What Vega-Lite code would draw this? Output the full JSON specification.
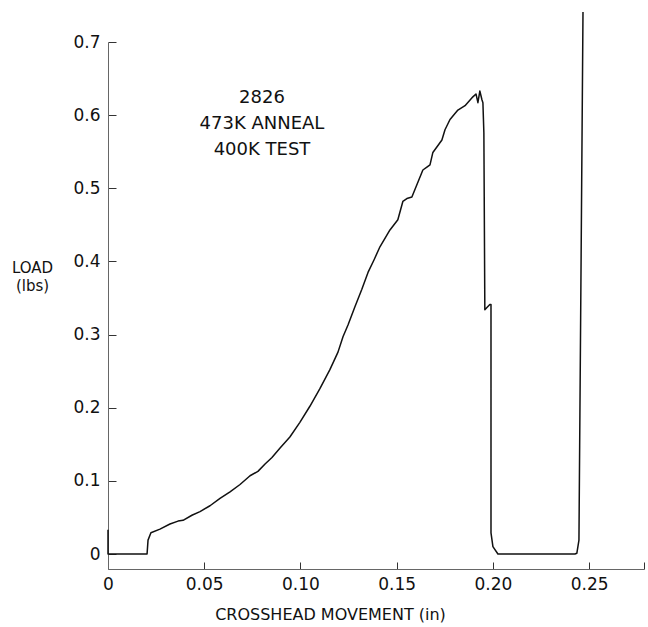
{
  "$schema": "https://vega.github.io/schema/vega-lite/v6.json",
  "width": 536,
  "height": 527,
  "autosize": {"type": "none"},
  "padding": {"left": 108, "top": 42, "right": 4, "bottom": 58},
  "background": "white",
  "config": {
    "view": {"stroke": null},
    "font": "DejaVu Sans",
    "axis": {"grid": false, "labelFont": "DejaVu Sans", "titleFont": "DejaVu Sans", "labelColor": "#111", "titleColor": "#111", "titleFontWeight": "normal", "domainColor": "#666", "tickColor": "#333", "labelFlush": false}
  },
  "datasets": {
    "curve": [
      {"x": 0, "y": 0.033}, {"x": 0, "y": 0}, {"x": 0.0203, "y": 0}, {"x": 0.0208, "y": 0.019},
      {"x": 0.0223, "y": 0.029}, {"x": 0.027, "y": 0.034}, {"x": 0.0322, "y": 0.041}, {"x": 0.0364, "y": 0.045},
      {"x": 0.039, "y": 0.046}, {"x": 0.0436, "y": 0.053}, {"x": 0.0478, "y": 0.058}, {"x": 0.053, "y": 0.066},
      {"x": 0.0582, "y": 0.076}, {"x": 0.0634, "y": 0.085}, {"x": 0.0686, "y": 0.095}, {"x": 0.0738, "y": 0.107},
      {"x": 0.0779, "y": 0.113}, {"x": 0.0816, "y": 0.123}, {"x": 0.0852, "y": 0.132}, {"x": 0.0894, "y": 0.145},
      {"x": 0.0945, "y": 0.160}, {"x": 0.0997, "y": 0.180}, {"x": 0.1049, "y": 0.202}, {"x": 0.1101, "y": 0.226},
      {"x": 0.1153, "y": 0.252}, {"x": 0.1195, "y": 0.276}, {"x": 0.1221, "y": 0.297}, {"x": 0.1247, "y": 0.313},
      {"x": 0.1283, "y": 0.338}, {"x": 0.1319, "y": 0.362}, {"x": 0.1351, "y": 0.385}, {"x": 0.1382, "y": 0.402},
      {"x": 0.1413, "y": 0.42}, {"x": 0.1465, "y": 0.443}, {"x": 0.1506, "y": 0.457}, {"x": 0.1532, "y": 0.482},
      {"x": 0.1553, "y": 0.486}, {"x": 0.1579, "y": 0.488}, {"x": 0.1636, "y": 0.525}, {"x": 0.1657, "y": 0.529},
      {"x": 0.1673, "y": 0.532}, {"x": 0.1688, "y": 0.549}, {"x": 0.1735, "y": 0.566}, {"x": 0.1751, "y": 0.58},
      {"x": 0.1777, "y": 0.594}, {"x": 0.1818, "y": 0.607}, {"x": 0.1855, "y": 0.613}, {"x": 0.1896, "y": 0.625},
      {"x": 0.1912, "y": 0.629}, {"x": 0.1922, "y": 0.617}, {"x": 0.1932, "y": 0.633}, {"x": 0.1943, "y": 0.621},
      {"x": 0.1948, "y": 0.617}, {"x": 0.1953, "y": 0.576}, {"x": 0.1958, "y": 0.334}, {"x": 0.1969, "y": 0.337},
      {"x": 0.1984, "y": 0.341}, {"x": 0.199, "y": 0.341}, {"x": 0.199, "y": 0.029}, {"x": 0.2, "y": 0.01},
      {"x": 0.2026, "y": 0.0}, {"x": 0.2426, "y": 0.0}, {"x": 0.2436, "y": 0.001}, {"x": 0.2447, "y": 0.019},
      {"x": 0.2468, "y": 0.741}
    ],
    "notes": [
      {"x": 0.08, "y": 0.624, "text": "2826"},
      {"x": 0.08, "y": 0.588, "text": "473K  ANNEAL"},
      {"x": 0.08, "y": 0.553, "text": "400K  TEST"}
    ]
  },
  "layer": [
    {
      "data": {"name": "curve"},
      "mark": {"type": "line", "color": "#111", "strokeWidth": 1.5, "strokeJoin": "round"},
      "encoding": {
        "x": {"field": "x", "type": "quantitative", "scale": {"domain": [0, 0.2785], "nice": false, "zero": false},
          "axis": {"values": [0, 0.05, 0.1, 0.15, 0.2, 0.25, 0.2785], "labelExpr": "datum.value == 0 ? '0' : datum.value > 0.27 ? '' : format(datum.value, '.2f')", "tickSize": -7, "labelPadding": 14, "labelFontSize": 17, "title": "CROSSHEAD  MOVEMENT  (in)", "titleFontSize": 16, "titleX": 222, "titleAlign": "center", "titleY": 50, "titleBaseline": "alphabetic"}},
        "y": {"field": "y", "type": "quantitative", "sort": null, "scale": {"domain": [-0.0205, 0.7], "nice": false, "zero": false},
          "axis": {"values": [0, 0.1, 0.2, 0.3, 0.4, 0.5, 0.6, 0.7], "labelExpr": "datum.value == 0 ? '0' : format(datum.value, '.1f')", "tickSize": -8, "labelPadding": 16, "labelFontSize": 17, "title": ["LOAD", "(lbs)"], "titleFontSize": 15, "titleAngle": 0, "titleX": -76, "titleY": 218, "titleAlign": "center", "titleBaseline": "top", "titleLineHeight": 18}},
        "order": {"value": 0}
      }
    },
    {
      "data": {"name": "notes"},
      "mark": {"type": "text", "fontSize": 18, "color": "#111", "align": "center", "baseline": "middle"},
      "encoding": {
        "x": {"field": "x", "type": "quantitative"},
        "y": {"field": "y", "type": "quantitative"},
        "text": {"field": "text"}
      }
    }
  ]
}
